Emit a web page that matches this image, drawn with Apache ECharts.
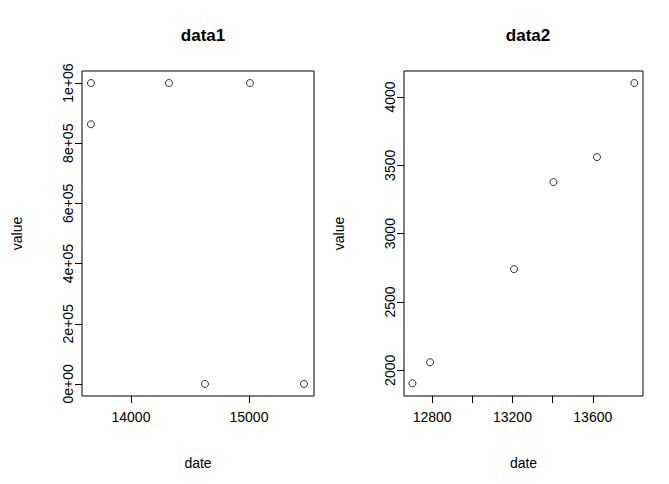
<!DOCTYPE html>
<html>
<head>
<meta charset="utf-8">
<script src="https://cdn.jsdelivr.net/npm/echarts@6/dist/echarts.min.js"></script>
<style>html,body{margin:0;padding:0;background:#fff}#c{width:669px;height:484px}</style>
</head>
<body>
<div id="c"></div>
<script>
var dates1 = [13661, 13661, 14322, 14627, 15008, 15466];
var values1 = [1000000, 863000, 1000000, 0, 1000000, 0];
var dates2 = [12702, 12790, 13208, 13404, 13621, 13807];
var values2 = [1905, 2059, 2740, 3377, 3560, 4102];
var xTicks1 = [14000, 15000];
var yTicks1 = [0, 200000, 400000, 600000, 800000, 1000000];
var xTicks2 = [12800, 13000, 13200, 13400, 13600];
var xLabels2 = [12800, 13200, 13600];
var yTicks2 = [2000, 2500, 3000, 3500, 4000];

var font = "Liberation Sans, Arial, sans-serif";

function pairs(xs, ys) {
	var out = [], i;
	for (i = 0; i < xs.length; i++)
		out.push([xs[i], ys[i]]);
	return out;
}

function sci(v) {
	if (v == 0) return "0e+00";
	var e = Math.floor(Math.log10(v)), m = v / Math.pow(10, e);
	return m + "e+" + (e < 10 ? "0" + e : e);
}

function plain(v) {
	return String(v);
}

function xAxis(idx, min, max, ticks, labels) {
	return {
		type: 'value', gridIndex: idx, min: min, max: max, position: 'bottom',
		name: 'date', nameLocation: 'middle', nameGap: 60,
		nameTextStyle: {color: '#000', fontSize: 14, fontFamily: font},
		axisLine: {show: false, onZero: false},
		axisTick: {show: true, inside: false, length: 7, customValues: ticks, lineStyle: {color: '#000'}},
		axisLabel: {customValues: labels, color: '#000', fontSize: 14, fontFamily: font, margin: 14, formatter: plain},
		splitLine: {show: false}
	};
}

function yAxis(idx, min, max, ticks, fmt) {
	return {
		type: 'value', gridIndex: idx, min: min, max: max, position: 'left',
		name: 'value', nameLocation: 'middle', nameGap: 58,
		nameTextStyle: {color: '#000', fontSize: 14, fontFamily: font},
		axisLine: {show: false, onZero: false},
		axisTick: {show: true, inside: false, length: 7, customValues: ticks, lineStyle: {color: '#000'}},
		axisLabel: {customValues: ticks, rotate: 90, color: '#000', fontSize: 14, fontFamily: font, margin: 14,
			formatter: fmt, verticalAlign: 'middle', align: 'center'},
		splitLine: {show: false}
	};
}

var chart = echarts.init(document.getElementById('c'), null, {renderer: 'svg'});
chart.setOption({
	animation: false,
	title: [
		{text: 'data1', left: 198, top: 22, textAlign: 'center', textStyle: {fontSize: 17, fontWeight: 'bold', fontFamily: font, color: '#000'}},
		{text: 'data2', left: 523, top: 22, textAlign: 'center', textStyle: {fontSize: 17, fontWeight: 'bold', fontFamily: font, color: '#000'}}
	],
	grid: [
		{left: 82, right: 355, top: 71, bottom: 88, show: true, borderColor: '#000', borderWidth: 1, backgroundColor: 'transparent'},
		{left: 404, right: 26, top: 71, bottom: 88, show: true, borderColor: '#000', borderWidth: 1, backgroundColor: 'transparent'}
	],
	xAxis: [
		xAxis(0, 13585, 15551, xTicks1, xTicks1),
		xAxis(1, 12660, 13850, xTicks2, xLabels2)
	],
	yAxis: [
		yAxis(0, -40000, 1040000, yTicks1, sci),
		yAxis(1, 1812, 4190, yTicks2, plain)
	],
	series: [
		{type: 'scatter', xAxisIndex: 0, yAxisIndex: 0, data: pairs(dates1, values1), symbolSize: 7,
			itemStyle: {color: 'transparent', borderColor: '#000', borderWidth: 1}},
		{type: 'scatter', xAxisIndex: 1, yAxisIndex: 1, data: pairs(dates2, values2), symbolSize: 7,
			itemStyle: {color: 'transparent', borderColor: '#000', borderWidth: 1}}
	]
});
</script>
</body>
</html>
